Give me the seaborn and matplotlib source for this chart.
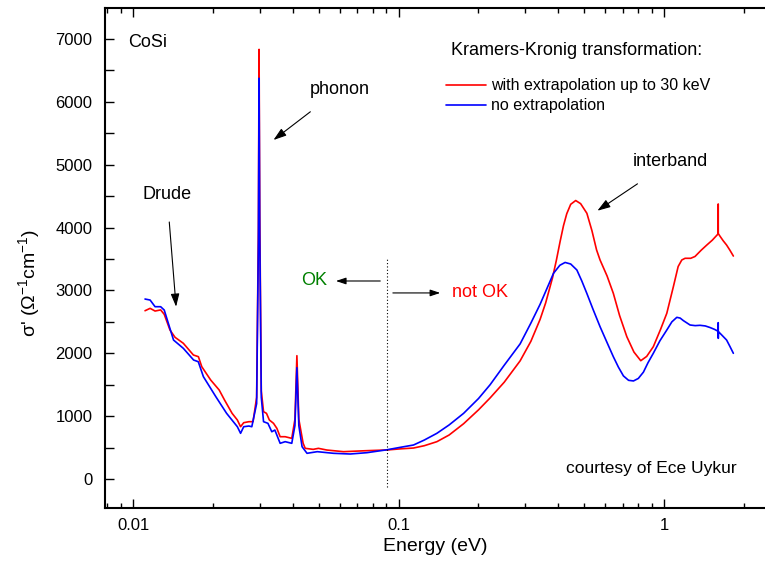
import matplotlib
matplotlib.use("Agg")
import matplotlib.pyplot as plt
import matplotlib.ticker as ticker
from matplotlib.lines import Line2D
import pandas as pd
import seaborn as sns

# sigma' of CoSi after Kramers-Kronig
energy_red = [0.01109, 0.01159, 0.0121, 0.0127, 0.0131, 0.01377, 0.01439, 0.01546,
              0.01687, 0.01762, 0.01814, 0.0196, 0.0211, 0.0221, 0.0236, 0.0247,
              0.0254, 0.0261, 0.0273, 0.0283, 0.0292, 0.02965, 0.02982, 0.0300,
              0.0304, 0.0310, 0.0318, 0.0326, 0.0338, 0.0348, 0.0358, 0.0374,
              0.0396, 0.0407, 0.0414, 0.0421, 0.0437, 0.0445, 0.0477, 0.0499,
              0.0537, 0.0620, 0.0760, 0.0904, 0.1018, 0.1138, 0.125, 0.1394,
              0.155, 0.1758, 0.20, 0.2212, 0.25, 0.2870, 0.315, 0.3413, 0.358,
              0.380, 0.393, 0.406, 0.418, 0.430, 0.445, 0.4647, 0.485, 0.512,
              0.535, 0.557, 0.574, 0.61, 0.644, 0.68, 0.724, 0.77, 0.817, 0.86,
              0.911, 0.97, 1.024, 1.084, 1.13, 1.166, 1.20, 1.26, 1.308, 1.38,
              1.447, 1.52, 1.5985, 1.5995, 1.6005, 1.62, 1.67, 1.72, 1.77, 1.824]
sigma_red = [2677, 2715, 2672, 2690, 2620, 2370, 2254, 2159,
             1973, 1946, 1787, 1575, 1416, 1257, 1045, 939,
             832, 896, 912, 912, 1300, 4000, 6834, 4200,
             1400, 1071, 1045, 939, 886, 806, 673, 673,
             647, 950, 1962, 950, 568, 488, 472, 488,
             461, 435, 451, 462, 480, 493, 530, 594,
             700, 880, 1100, 1290, 1540, 1880, 2190, 2540, 2800,
             3200, 3480, 3780, 4030, 4220, 4370, 4430, 4380, 4227,
             3950, 3643, 3484, 3230, 2954, 2600, 2264, 2020, 1882, 1950,
             2105, 2380, 2636, 3059, 3380, 3484, 3511, 3511, 3540, 3640,
             3720, 3800, 3900, 4375, 3905, 3870, 3790, 3722, 3640, 3547]

energy_blue = [0.01109, 0.01159, 0.0121, 0.0127, 0.0131, 0.0142, 0.01546, 0.0169,
               0.0176, 0.0184, 0.0205, 0.0225, 0.0247, 0.0254, 0.0261, 0.0273,
               0.0280, 0.0292, 0.02965, 0.02982, 0.0300, 0.0304, 0.0310, 0.0322,
               0.0333, 0.0342, 0.0358, 0.0374, 0.0396, 0.0407, 0.0414, 0.0421,
               0.0433, 0.0452, 0.0494, 0.0569, 0.0657, 0.0760, 0.0904, 0.1018,
               0.1138, 0.125, 0.1394, 0.155, 0.1758, 0.20, 0.2212, 0.25, 0.2870,
               0.315, 0.3413, 0.3833, 0.405, 0.4239, 0.445, 0.4694, 0.49, 0.5117,
               0.54, 0.574, 0.61, 0.644, 0.673, 0.703, 0.735, 0.767, 0.80, 0.836,
               0.87, 0.911, 0.965, 1.024, 1.07, 1.117, 1.15, 1.182, 1.253, 1.31,
               1.366, 1.43, 1.49, 1.55, 1.5985, 1.5995, 1.6005, 1.602, 1.65,
               1.72, 1.77, 1.824]
sigma_blue = [2863, 2847, 2741, 2741, 2688, 2211, 2079, 1893,
              1866, 1628, 1309, 1045, 832, 727, 832, 843,
              832, 1200, 3800, 6375, 3900, 1300, 912, 886,
              752, 779, 568, 594, 568, 850, 1771, 850,
              514, 409, 435, 409, 398, 419, 465, 505,
              541, 620, 727, 860, 1045, 1280, 1500, 1810, 2150,
              2480, 2780, 3272, 3400, 3445, 3420, 3325, 3150, 2954,
              2700, 2423, 2170, 1946, 1780, 1640, 1570, 1560, 1600, 1700,
              1850, 2000, 2200, 2370, 2500, 2572, 2560, 2520, 2450, 2440,
              2445, 2435, 2410, 2380, 2350, 2487, 2238, 2345, 2290,
              2211, 2110, 2000]

label_red = "with extrapolation up to 30 keV"
label_blue = "no extrapolation"
colors = {label_red: "#ff0000", label_blue: "#0000ff"}

df = pd.concat([
    pd.DataFrame({"energy": energy_red, "sigma": sigma_red, "kk": label_red}),
    pd.DataFrame({"energy": energy_blue, "sigma": sigma_blue, "kk": label_blue}),
])

sns.set_style("ticks")
plt.rcParams["font.family"] = ["Liberation Sans", "DejaVu Sans"]
plt.rcParams["mathtext.fontset"] = "custom"
plt.rcParams["mathtext.rm"] = "Liberation Sans"
plt.rcParams["text.color"] = "black"
plt.rcParams["axes.labelcolor"] = "black"
plt.rcParams["axes.edgecolor"] = "black"

fig = plt.figure(figsize=(7.65, 5.69), dpi=100)
ax = fig.add_axes([0.1373, 0.1072, 0.8627, 0.8788])

sns.lineplot(data=df, x="energy", y="sigma", hue="kk", palette=colors,
             estimator=None, sort=False, legend=False, lw=1.2, ax=ax)

ax.set_xscale("log")
ax.set_xlim(0.00784, 2.40)
ax.set_ylim(-461, 7493)
ax.yaxis.set_major_locator(ticker.MultipleLocator(1000))
ax.yaxis.set_minor_locator(ticker.MultipleLocator(500))
ax.xaxis.set_major_formatter(ticker.FuncFormatter(lambda v, p: f"{v:g}"))

for s in ["left", "bottom", "top"]:
    ax.spines[s].set_linewidth(1.5)
ax.spines["right"].set_visible(False)
ax.tick_params(which="both", direction="in", top=True, right=False, width=1.0,
               labelsize=12, colors="black")
ax.tick_params(axis="y", which="both", length=6.5, pad=9)
ax.tick_params(axis="x", which="major", length=6.5, pad=7)
ax.tick_params(axis="x", which="minor", length=3.5)

ax.set_xlabel("Energy (eV)", fontsize=14, labelpad=4)
ax.set_ylabel(r"σ' ($\mathregular{\Omega^{-1}cm^{-1}}$)", fontsize=14)
ax.yaxis.set_label_coords(-0.095, 0.45)

# annotations
ax.text(0.00957, 6936, "CoSi", fontsize=13, va="center", ha="left")
arrow = dict(arrowstyle="-|>,head_length=0.6,head_width=0.2", color="black", lw=0.8)
ax.annotate("Drude", xy=(0.01452, 2741), xytext=(0.01343, 4518), fontsize=13,
            ha="center", va="center", arrowprops=dict(arrow, shrinkA=11, shrinkB=0))
ax.annotate("phonon", xy=(0.0338, 5393), xytext=(0.0602, 6204), fontsize=13,
            ha="center", va="center", arrowprops=dict(arrow, shrinkA=13, shrinkB=0))
ax.annotate("interband", xy=(0.561, 4268), xytext=(1.053, 5043), fontsize=13,
            ha="center", va="center", arrowprops=dict(arrow, shrinkA=13, shrinkB=0))

cutoff = 0.0903
ax.vlines(cutoff, -127, 3516, colors="black", linestyles=(0, (1, 2)), lw=0.8)
ax.annotate("", xy=(0.0567, 3150), xytext=(0.0874, 3150), arrowprops=arrow)
ax.text(0.0538, 3150, "OK", color="#008000", fontsize=13, ha="right", va="center")
ax.annotate("", xy=(0.147, 2960), xytext=(0.0929, 2960), arrowprops=arrow)
ax.text(0.159, 2960, "not OK", color="#ff0000", fontsize=13, ha="left", va="center")

ax.text(1.88, 170, "courtesy of Ece Uykur", fontsize=12.5, ha="right", va="center")

ax.text(0.157, 6814, "Kramers-Kronig transformation:", fontsize=13, ha="left", va="center")
handles = [Line2D([], [], color=colors[label_red], lw=1.2),
           Line2D([], [], color=colors[label_blue], lw=1.2)]
ax.legend(handles, [label_red, label_blue], loc="upper left",
          bbox_to_anchor=(0.505, 0.875), frameon=False, fontsize=11.5,
          handlelength=2.5, handletextpad=0.3, labelspacing=0.3, borderpad=0)

fig.savefig("out.png", dpi=100)
